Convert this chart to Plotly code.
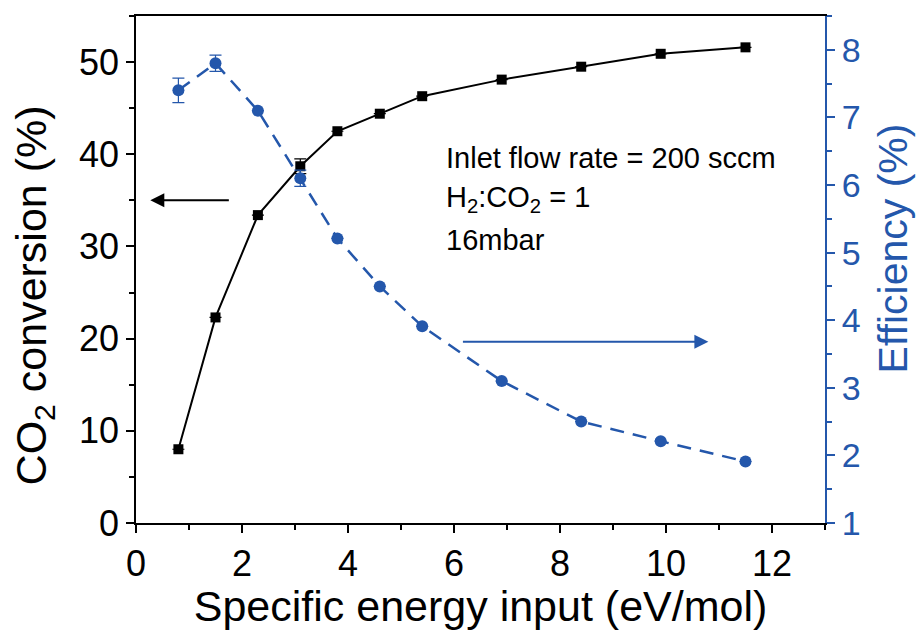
import plotly.graph_objects as go

# Data
sei = [0.8, 1.5, 2.3, 3.1, 3.8, 4.6, 5.4, 6.9, 8.4, 9.9, 11.5]
conversion = [8.0, 22.3, 33.4, 38.7, 42.5, 44.4, 46.3, 48.1, 49.5, 50.9, 51.6]
conversion_err = [0, 0, 0, 0.8, 0, 0, 0, 0, 0, 0, 0]
efficiency = [7.40, 7.80, 7.10, 6.10, 5.21, 4.50, 3.91, 3.10, 2.50, 2.21, 1.91]
efficiency_err = [0.18, 0.12, 0, 0.12, 0, 0, 0, 0, 0, 0, 0]
x_ticks = [0, 2, 4, 6, 8, 10, 12]
y_ticks = [0, 10, 20, 30, 40, 50]
y2_ticks = [1, 2, 3, 4, 5, 6, 7, 8]
info_lines = ["Inlet flow rate = 200 sccm", "H<sub>2</sub>:CO<sub>2</sub> = 1", "16mbar"]

BLUE = "#2457AB"
FONT = "Liberation Sans, Arial, sans-serif"

fig = go.Figure()

fig.add_trace(go.Scatter(
    x=sei, y=efficiency, yaxis="y2", mode="lines+markers",
    line=dict(color=BLUE, width=2.5, dash="14px,9px"),
    marker=dict(symbol="circle", size=12, color=BLUE),
    error_y=dict(type="data", array=efficiency_err, color=BLUE, thickness=1.2, width=6),
    showlegend=False,
))
fig.add_trace(go.Scatter(
    x=sei, y=conversion, mode="lines+markers",
    line=dict(color="black", width=2),
    marker=dict(symbol="square", size=10, color="black"),
    error_y=dict(type="data", array=conversion_err, color="black", thickness=1.2, width=6),
    showlegend=False,
))

annots = [
    dict(x=0.27, y=35, ax=1.78, ay=35, xref="x", yref="y", axref="x", ayref="y",
         showarrow=True, arrowhead=2, arrowsize=1.4, arrowwidth=2, arrowcolor="black", text=""),
    dict(x=10.8, y=3.68, ax=6.14, ay=3.68, xref="x", yref="y2", axref="x", ayref="y2",
         showarrow=True, arrowhead=2, arrowsize=1.4, arrowwidth=2, arrowcolor=BLUE, text=""),
    dict(x=-0.148, y=0.449, xref="paper", yref="paper", text="CO<sub>2</sub> conversion (%)",
         textangle=-90, showarrow=False, xanchor="center", yanchor="middle",
         font=dict(family=FONT, size=43, color="black")),
    dict(x=1.099, y=0.542, xref="paper", yref="paper", text="Efficiency (%)",
         textangle=-90, showarrow=False, xanchor="center", yanchor="middle",
         font=dict(family=FONT, size=41, color=BLUE)),
]
for txt, yv in zip(info_lines, [39.6, 35.2, 30.7]):
    annots.append(dict(x=5.82, y=yv, xref="x", yref="y", text=txt, showarrow=False,
                       xanchor="left", yanchor="middle",
                       font=dict(family=FONT, size=29, color="black")))

fig.update_layout(
    width=919, height=630,
    margin=dict(l=135.5, r=94, t=15.7, b=107.3),
    plot_bgcolor="white", paper_bgcolor="white",
    font=dict(family=FONT, color="black"),
    annotations=annots,
    xaxis=dict(
        range=[0, 13], tickvals=x_ticks,
        ticks="outside", ticklen=8, tickwidth=1.5, tickcolor="black",
        minor=dict(dtick=1, ticks="outside", ticklen=5, tickwidth=1.5, tickcolor="black"),
        showline=True, linecolor="black", linewidth=1.5, mirror=True,
        showgrid=False, zeroline=False,
        tickfont=dict(size=36, color="black"),
        title=dict(text="Specific energy input (eV/mol)", font=dict(size=43, color="black"), standoff=2),
    ),
    yaxis=dict(
        range=[0, 55], tickvals=y_ticks,
        ticks="outside", ticklen=8, tickwidth=1.5, tickcolor="black",
        minor=dict(dtick=5, ticks="outside", ticklen=5, tickwidth=1.5, tickcolor="black"),
        showline=True, linecolor="black", linewidth=1.5,
        showgrid=False, zeroline=False,
        tickfont=dict(size=36, color="black"),
    ),
    yaxis2=dict(
        range=[1, 8.5], tickvals=y2_ticks, overlaying="y", side="right",
        ticks="outside", ticklen=8, tickwidth=1.5, tickcolor=BLUE,
        minor=dict(dtick=0.5, ticks="outside", ticklen=5, tickwidth=1.5, tickcolor=BLUE),
        showline=True, linecolor=BLUE, linewidth=2,
        showgrid=False, zeroline=False,
        tickfont=dict(size=34, color=BLUE),
    ),
)

fig.write_html("out.html")
